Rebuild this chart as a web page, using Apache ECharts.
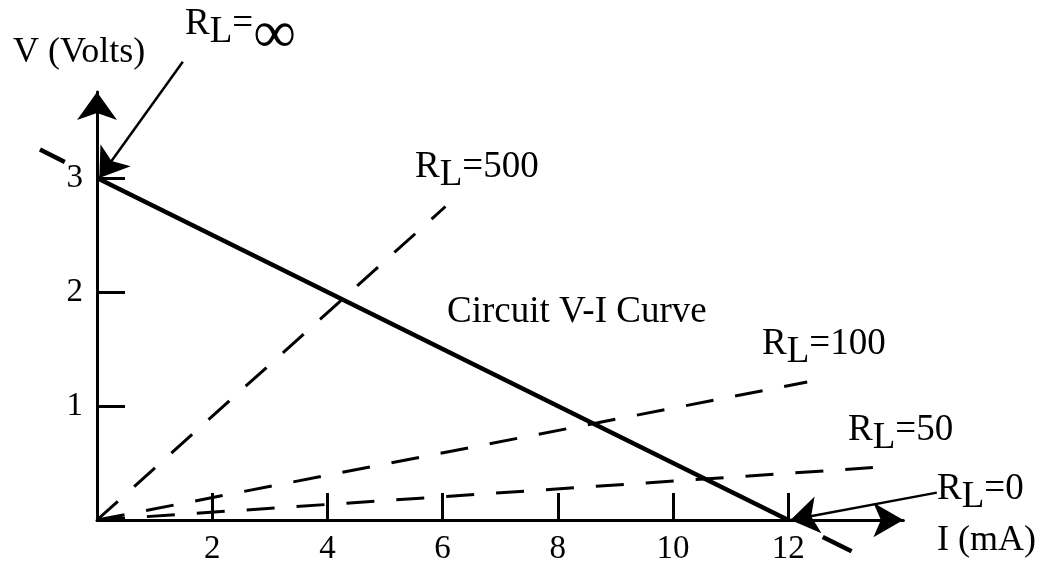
<!DOCTYPE html>
<html><head><meta charset="utf-8">
<script src="https://cdn.jsdelivr.net/npm/echarts@6/dist/echarts.min.js"></script>
<style>html,body{margin:0;padding:0;background:#fff}#c{width:1043px;height:563px}</style>
</head><body><div id="c"></div>
<script>
// ---- data ----
const xTicks = [2, 4, 6, 8, 10, 12];
const yTicks = [1, 2, 3];
const circuitCurve = [[0, 3], [12, 0]];
const circuitExtension = [[[-0.99, 3.25], [-0.56, 3.14]], [[12.6, -0.15], [13.1, -0.275]]];
const load500 = [[0, 0], [6.05, 2.75]];
const load100 = [[0, 0], [12.33, 1.21]];
const load50 = [[0, 0], [13.47, 0.46]];
const arrowInfinity = [[1.49, 4.02], [0.04, 3.0]];
const arrowZero = [[14.58, 0.24], [12.04, 0.0]];
const X_MAX = 14, Y_MAX = 3.754;

const FF = '"Liberation Serif", "Times New Roman", serif';
const chart = echarts.init(document.getElementById('c'), null, {renderer: 'canvas'});

function rlLabel(x, y, val, valStyle) {
  const base = {fontSize: 37, fontFamily: FF, fill: '#000', color: '#000', lineHeight: 36, verticalAlign: 'top'};
  return {
    type: 'text', x: x, y: y, silent: true,
    style: {
      text: '{r|R}{l|L}{t|=}{v|' + val + '}',
      rich: {
        r: base,
        l: Object.assign({}, base, {padding: [8, 0, 0, 0]}),
        t: base,
        v: Object.assign({}, base, valStyle || {})
      }
    }
  };
}
function plain(x, y, txt, size) {
  return {type: 'text', x: x, y: y, silent: true,
    style: {text: txt, font: size + 'px ' + FF, fill: '#000', verticalAlign: 'middle'}};
}
const dashed = {color: '#000', width: 3, type: [28, 22]};

chart.setOption({
  animation: false,
  backgroundColor: '#fff',
  grid: {left: 97, top: 520 - Y_MAX * 114, width: X_MAX * 57.6, height: Y_MAX * 114,
    outerBoundsMode: 'none', containLabel: false},
  xAxis: {
    type: 'value', min: 0, max: X_MAX, splitLine: {show: false},
    axisLine: {show: true, onZero: false, symbol: ['none', 'arrow'], symbolSize: [26, 30],
      lineStyle: {color: '#000', width: 3}},
    axisTick: {show: true, inside: true, length: 27, customValues: xTicks, lineStyle: {color: '#000', width: 3}},
    axisLabel: {show: true, customValues: xTicks, margin: 29, verticalAlign: 'middle',
      fontFamily: FF, fontSize: 33, color: '#000'}
  },
  yAxis: {
    type: 'value', min: 0, max: Y_MAX, splitLine: {show: false},
    axisLine: {show: true, onZero: false, symbol: ['none', 'arrow'], symbolSize: [30, 28],
      lineStyle: {color: '#000', width: 3}},
    axisTick: {show: true, inside: true, length: 28, customValues: yTicks, lineStyle: {color: '#000', width: 3}},
    axisLabel: {show: true, customValues: yTicks, margin: 14,
      fontFamily: FF, fontSize: 33, color: '#000'}
  },
  series: [
    {type: 'line', data: circuitCurve, symbol: 'none', clip: false, silent: true,
      lineStyle: {color: '#000', width: 4.5}},
    {type: 'lines', coordinateSystem: 'cartesian2d', clip: false, silent: true,
      data: circuitExtension.map(c => ({coords: c})),
      lineStyle: {color: '#000', width: 4.5, opacity: 1}},
    {type: 'line', data: load500, symbol: 'none', clip: false, silent: true, lineStyle: dashed},
    {type: 'line', data: load100, symbol: 'none', clip: false, silent: true, lineStyle: dashed},
    {type: 'line', data: load50, symbol: 'none', clip: false, silent: true, lineStyle: dashed},
    {type: 'lines', coordinateSystem: 'cartesian2d', clip: false, silent: true,
      symbol: ['none', 'arrow'], symbolSize: 28,
      data: [{coords: arrowInfinity}, {coords: arrowZero}],
      lineStyle: {color: '#000', width: 2.5, opacity: 1}, itemStyle: {color: '#000'}}
  ],
  graphic: [
    plain(13, 53, 'V (Volts)', 36),
    plain(937, 541, 'I (mA)', 36),
    plain(447, 312, 'Circuit V-I Curve', 37),
    rlLabel(185, 6, '∞', {fontSize: 60, lineHeight: 22}),
    rlLabel(415, 149, '500'),
    rlLabel(762, 326, '100'),
    rlLabel(848, 412, '50'),
    rlLabel(937, 471, '0')
  ]
});
</script></body></html>
